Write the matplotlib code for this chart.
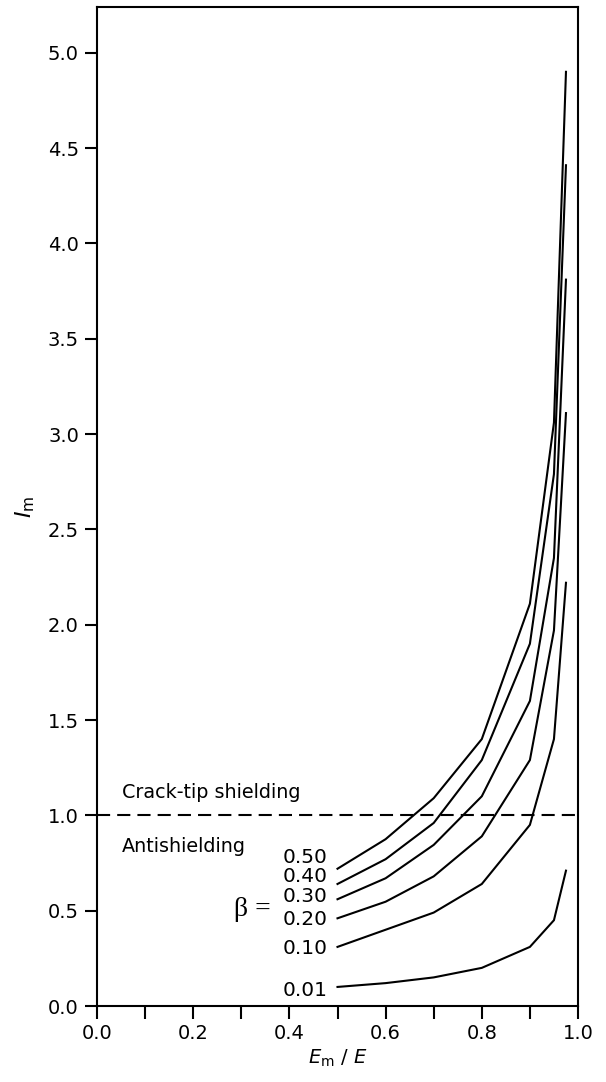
import numpy as np
import matplotlib
matplotlib.use('Agg')
import matplotlib.pyplot as plt

plt.rcParams['font.family'] = ['DejaVu Sans']
plt.rcParams['mathtext.fontset'] = 'dejavusans'

# stiffness ratio Em/E where the curves were computed
em_over_e = [0.5, 0.6, 0.7, 0.8, 0.9, 0.95, 0.975]

# I_m for each beta
betas = ['0.50', '0.40', '0.30', '0.20', '0.10', '0.01']
im_050 = [0.72, 0.875, 1.09, 1.40, 2.11, 3.06, 4.90]
im_040 = [0.64, 0.77, 0.96, 1.29, 1.90, 2.79, 4.41]
im_030 = [0.56, 0.67, 0.845, 1.10, 1.60, 2.35, 3.81]
im_020 = [0.46, 0.547, 0.68, 0.89, 1.29, 1.97, 3.11]
im_010 = [0.31, 0.40, 0.49, 0.64, 0.95, 1.40, 2.22]
im_001 = [0.10, 0.12, 0.15, 0.20, 0.31, 0.45, 0.71]
curves = [im_050, im_040, im_030, im_020, im_010, im_001]

# y positions of the beta labels
label_y = [0.78, 0.677, 0.572, 0.456, 0.30, 0.08]

fig = plt.figure(figsize=(6.06, 10.82), dpi=100)
ax = fig.add_axes([97 / 606, 76 / 1082, 481 / 606, 999 / 1082])

for im in curves:
    ax.plot(em_over_e, im, color='black', lw=1.5, solid_joinstyle='miter')

# shielding / antishielding boundary
ax.axhline(1.0, color='black', lw=1.5, ls=(0, (6.3, 3.4)))

ax.text(0.052, 1.12, 'Crack-tip shielding', fontsize=13.8, va='center', ha='left')
ax.text(0.052, 0.834, 'Antishielding', fontsize=13.8, va='center', ha='left')

for b, yy in zip(betas, label_y):
    ax.text(0.479, yy, b, fontsize=14.5, va='center', ha='right')
ax.text(0.362, 0.505, 'β =', fontsize=20, va='center', ha='right',
        family='Liberation Serif')

ax.set_xlim(0, 1.0)
ax.set_ylim(0, 5.24)
ax.set_xticks(np.arange(0, 1.01, 0.2))
ax.set_xticks(np.arange(0.1, 1.0, 0.2), minor=True)
ax.set_xticklabels(['0.0', '0.2', '0.4', '0.6', '0.8', '1.0'])
ax.set_yticks(np.arange(0, 5.01, 0.5))
ax.set_yticklabels(['%.1f' % v for v in np.arange(0, 5.01, 0.5)])
ax.tick_params(axis='both', which='both', direction='out', length=9, width=1.5,
               labelsize=14, pad=4)

for s in ax.spines.values():
    s.set_linewidth(1.5)

ax.set_xlabel(r'$E_{\rm m}$ / $E$', fontsize=14, labelpad=3)
ax.set_ylabel(r'$\mathit{I}_{\rm m}$', fontsize=16, labelpad=8)

plt.savefig('out.png', dpi=100)
